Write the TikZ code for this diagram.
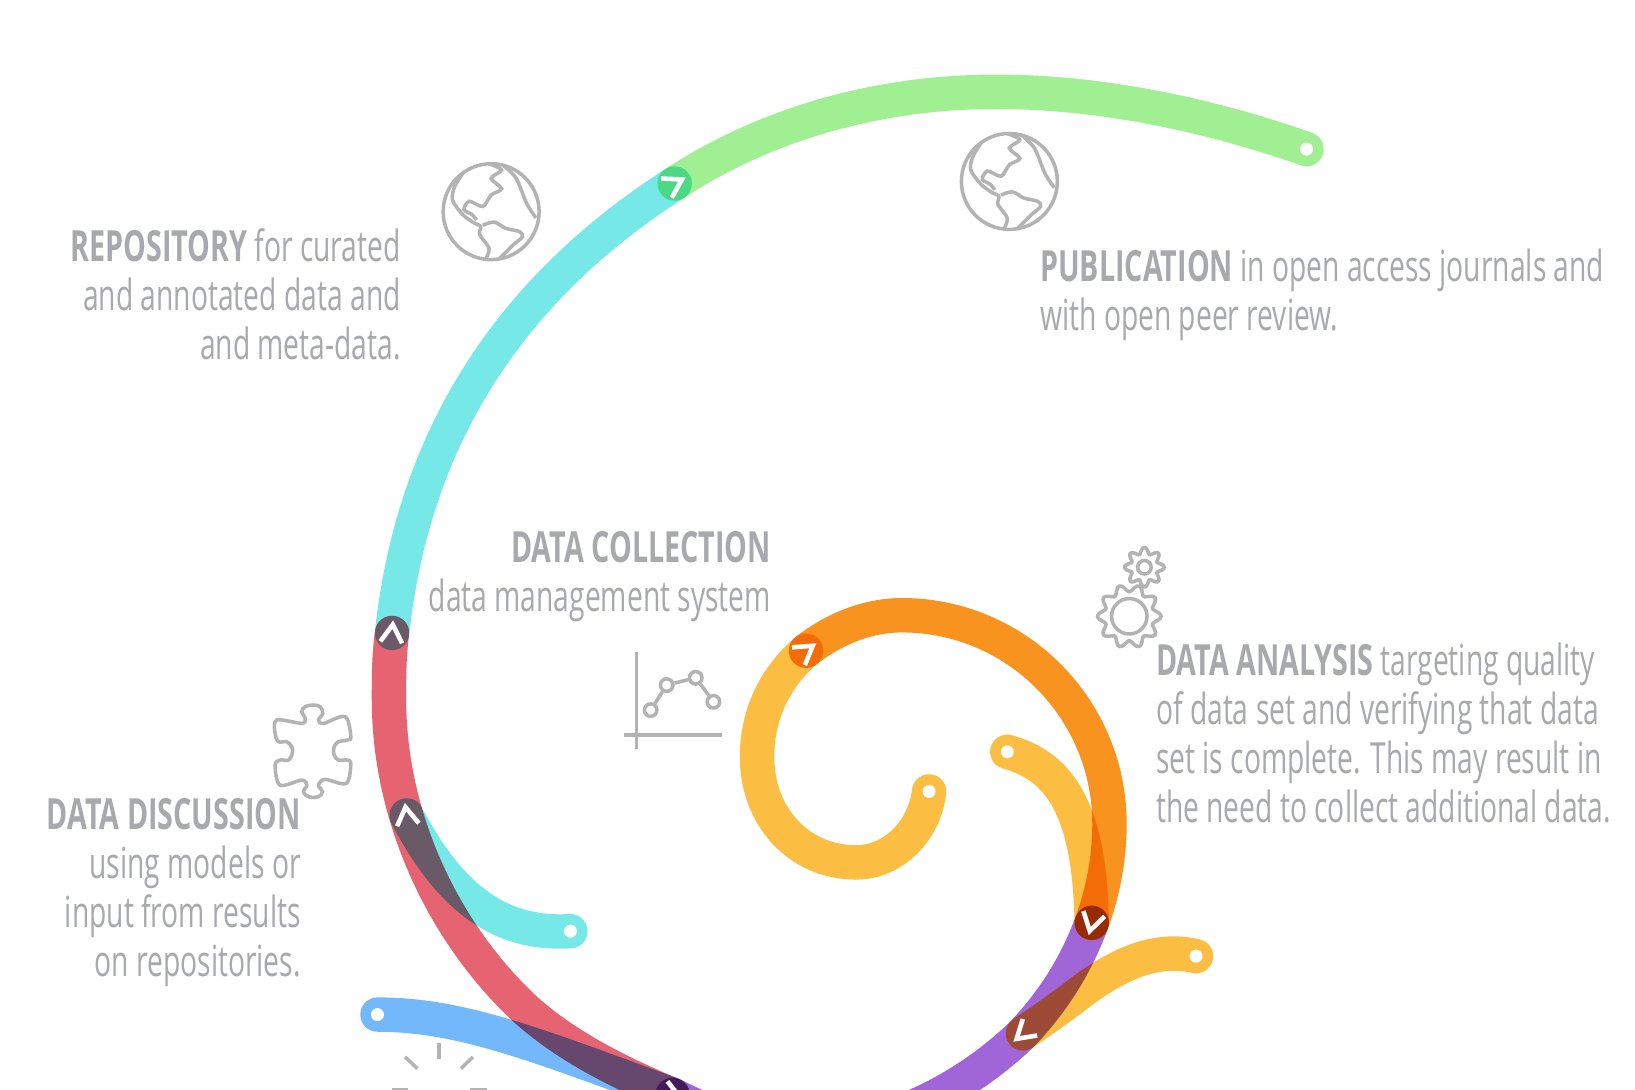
\documentclass[tikz,border=0pt]{standalone}
\usepackage{fontspec}
\setmainfont[FakeStretch=0.658,BoldFeatures={FakeStretch=0.668}]{Open Sans}
\usetikzlibrary{positioning}
\definecolor{cyanband}{HTML}{76E8E8}
\definecolor{greenband}{HTML}{A0F093}
\definecolor{redband}{HTML}{E66472}
\definecolor{blueband}{HTML}{72B8FA}
\definecolor{yellowband}{HTML}{FBBD42}
\definecolor{orangeband}{HTML}{F7931E}
\definecolor{purpleband}{HTML}{A066D8}
\definecolor{icongray}{HTML}{B3B3B3}
\definecolor{textgray}{HTML}{A7A9AC}
\tikzset{
  band/.style={line width=0.344cm, line cap=round, blend mode=multiply},
  tail/.style={circle, fill=white, inner sep=0pt, minimum size=0.13cm},
  icon/.style={draw=icongray, line width=1pt},
  lbl/.style={text=textgray, font=\fontsize{12.2}{13.9}\selectfont, inner sep=0pt},
  pics/chevron/.style={code={
    \draw[white, line width=1.3pt, line join=miter] (-10.5,9) -- (0,-8) -- (10.5,9);
  }},
  pics/globe/.style={code={
    \draw[icon] (0,0) circle (46);
    \draw[icon] plot[smooth] coordinates {(-27,-37) (-35,-24) (-37,-11) (-27,3) (-16,11) (-10,14) (-11,22) (-2,35) (-5,45)};
    \draw[icon] plot[smooth] coordinates {(-8,13) (3,10) (14,16) (27,19) (30,24) (21,32) (8,45)};
    \draw[icon] plot[smooth] coordinates {(-2,-46) (10,-40) (0,-32) (10,-22) (0,-16) (-8,-5) (-21,-10) (-26,-2) (-18,3) (-14,8)};
    \draw[icon] plot[smooth] coordinates {(11,-45) (24,-32) (34,-8) (43,6)};
  }},
  pics/gear/.style n args={4}{code={
    \draw[icon] (0,0) circle (#1);
    \draw[icon] plot[smooth cycle, domain=0:356, samples=90] (\x:{#2+#3*cos(#4*\x)});
  }},
}

\begin{document}
\begin{tikzpicture}[x=0.010427cm, y=-0.010427cm]
  \useasboundingbox (0,0) rectangle (1568,1045.3);
  \fill[white] (0,0) rectangle (1568,1045.3);

  % ends of the bands
  \coordinate (yy) at (891,759);
  \coordinate (yb) at (966,721);
  \coordinate (yc) at (1147,917);
  \coordinate (cc) at (547,893);
  \coordinate (bb) at (362,973);
  \coordinate (gg) at (1253,143);
  % places where two bands meet
  \coordinate (mo) at (773,624);
  \coordinate (mp) at (1047,885);
  \coordinate (mq) at (981,991);
  \coordinate (mb) at (645,1050);
  \coordinate (mc) at (390,782);
  \coordinate (mr) at (376,607);
  \coordinate (mg) at (647,176);

  % bands
  \draw[band, yellowband] (yy) .. controls (887,795) and (858,827) .. (821,827)
    .. controls (765,827) and (726,782) .. (726,726)
    .. controls (726,685) and (743,650) .. (mo);
  \draw[band, orangeband] (mo) .. controls (800,603) and (832,590) .. (865,590)
    .. controls (975,590) and (1064,680) .. (1064,790)
    .. controls (1064,822) and (1058,855) .. (mp);
  \draw[band, yellowband] (yb) .. controls (1017,735) and (1045,777) .. (mp);
  \draw[band, purpleband] (mp) .. controls (1030,930) and (1008,962) .. (mq)
    .. controls (920,1050) and (840,1085) .. (770,1085)
    .. controls (725,1085) and (685,1070) .. (mb);
  \draw[band, yellowband] (yc) .. controls (1109,908) and (1074,924) .. (1039,949.5)
    .. controls (1020,964) and (1001,978) .. (mq);
  \draw[band, blueband] (bb) .. controls (440,973) and (510,1000) .. (mb);
  \draw[band, redband] (mb) .. controls (585,1025) and (540,1000) .. (505,969)
    .. controls (430,900) and (373,790) .. (373,670)
    .. controls (373,650) and (373,628) .. (mr);
  \draw[band, cyanband] (cc) .. controls (480,897) and (432,862) .. (mc);
  \draw[band, cyanband] (mr) .. controls (395,430) and (480,283) .. (mg);
  \draw[band, greenband] (mg) .. controls (740,115) and (850,88) .. (955,88)
    .. controls (1060,88) and (1165,112) .. (gg);

  % white dots
  \node[tail] (dy) at (yy) {};
  \node[tail] (db) at (yb) {};
  \node[tail] (dc) at (yc) {};
  \node[tail] (dd) at (cc) {};
  \node[tail] (de) at (bb) {};
  \node[tail] (df) at (gg) {};

  % arrows on the joints
  \pic[rotate=-54] at (mo) {chevron};
  \pic[rotate=166] at (mp) {chevron};
  \pic[rotate=131] at (mq) {chevron};
  \pic[rotate=-110] at (mb) {chevron};
  \pic[rotate=8] at (mc) {chevron};
  \pic[rotate=-5] at (mr) {chevron};
  \pic[rotate=-61] at (mg) {chevron};

  % icons
  \pic at (471,203) {globe};
  \pic at (968,174) {globe};
  \pic at (1083,591) {gear={17}{27}{3.5}{10}};
  \pic at (1097.5,544) {gear={6.5}{16}{3}{8}};

  \begin{scope}[shift={(249.4,661.7)}, scale=0.32]
    \draw[icon] plot[smooth cycle, tension=0.55] coordinates {(50,90) (125,100) (135,85) (125,65) (135,50) (160,45) (180,50) (188,70) (175,90) (190,100) (255,80) (272,140) (262,150) (235,155) (222,170) (222,195) (235,210) (262,210) (272,222) (258,280) (195,268) (175,285) (187,305) (175,320) (145,320) (130,305) (140,285) (125,270) (60,285) (45,225) (60,210) (85,210) (97,190) (95,170) (80,155) (55,155) (45,130)};
  \end{scope}

  % chart
  \draw[icon] (610.6,625) -- (610.6,718);
  \draw[icon] (598,705) -- (692,705);
  \node[icon, circle, inner sep=0pt, minimum size=0.125cm] (pa) at (624,681) {};
  \node[icon, circle, inner sep=0pt, minimum size=0.125cm] (pb) at (639.4,657) {};
  \node[icon, circle, inner sep=0pt, minimum size=0.125cm] (pc) at (667.2,650) {};
  \node[icon, circle, inner sep=0pt, minimum size=0.125cm] (pd) at (684.2,673) {};
  \draw[icon] (pa) -- (pb);
  \draw[icon] (pb) -- (pc);
  \draw[icon] (pc) -- (pd);

  % sun
  \draw[icon] (400,1047) arc (180:0:21);
  \draw[icon] (421,1000) -- (421,1016);
  \draw[icon] (388.5,1013.6) -- (400.3,1024.8);
  \draw[icon] (453.5,1013.6) -- (442,1024.8);
  \draw[icon] (375.7,1045) -- (391.7,1045);
  \draw[icon] (451,1045) -- (467,1045);

  % labels
  \node[lbl, anchor=north east, align=right] (repo) at (385,219) {\textbf{REPOSITORY} for curated\\and annotated data and\\and meta-data.};
  \node[lbl, anchor=north west, align=left] (publ) at (997,238) {\textbf{PUBLICATION} in open access journals and\\with open peer review.};
  \node[lbl, anchor=north east, align=right] (coll) at (740,509) {\textbf{DATA COLLECTION}\\data management system};
  \node[lbl, anchor=north west, align=left] (anal) at (1108,616) {\textbf{DATA ANALYSIS} targeting quality\\of data set and verifying that data\\set is complete. This may result in\\the need to collect additional data.};
  \node[lbl, anchor=north east, align=right] (disc) at (289,765) {\textbf{DATA DISCUSSION}\\using models or\hspace*{1.8mm}\\input from results\hspace*{1.8mm}\\on repositories.};
\end{tikzpicture}
\end{document}
